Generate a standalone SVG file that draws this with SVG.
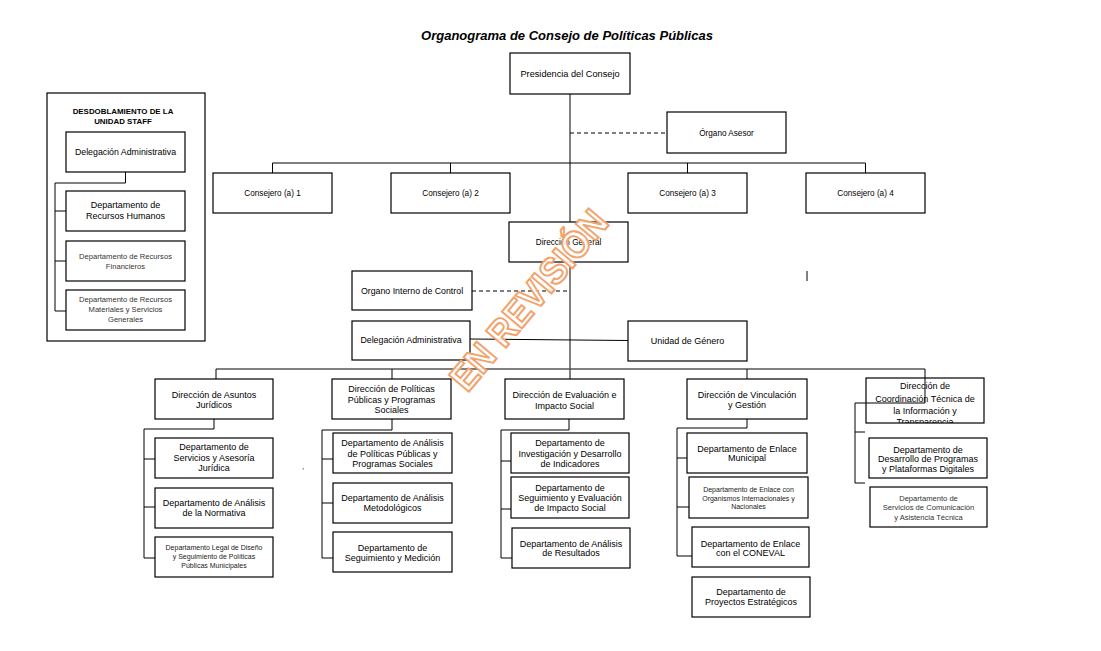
<svg xmlns="http://www.w3.org/2000/svg" width="1101" height="651" viewBox="0 0 1101 651">
<defs>
<style>
.b{fill:#fff;stroke:#000;stroke-width:1.2}
.t{font-family:"Liberation Sans",Arial,sans-serif;font-size:9px;text-anchor:middle;fill:#000}
.n{font-size:8.2px}
.s{font-size:7px;fill:#222}
.m{font-size:7.6px;fill:#333}
.c{fill:none;stroke:#000;stroke-width:1}
.d{stroke-dasharray:4 3}
.title{font-family:"Liberation Sans",Arial,sans-serif;font-size:13px;font-weight:bold;font-style:italic;text-anchor:middle}
.wm{font-family:"Liberation Sans",Arial,sans-serif;font-size:38px;font-weight:bold;text-anchor:middle;fill:#fff;fill-opacity:0.9;stroke:#F2A36C;stroke-width:2}
</style>
<clipPath id="clipCoord"><rect x="866" y="378" width="118" height="45"/></clipPath>
</defs>
<rect width="1101" height="651" fill="#fff"/>
<text class="title" x="567" y="40">Organograma de Consejo de Políticas Públicas</text>

<g id="staff">
<rect class="b" x="47" y="93" width="158" height="248"/>
<text class="t" x="123" y="114" style="font-size:7.9px;font-weight:bold">DESDOBLAMIENTO DE LA</text>
<text class="t" x="123" y="124" style="font-size:7.9px;font-weight:bold">UNIDAD STAFF</text>
</g>
<g id="staff-delegacion"><rect class="b" x="66" y="132" width="119" height="40"/><text class="t" x="125.5" y="155" style="font-size:8.8px">Delegación Administrativa</text></g>
<g id="staff-rrhh"><rect class="b" x="66" y="191" width="119" height="40"/><text class="t" x="125.5" y="208">Departamento de</text><text class="t" x="125.5" y="219">Recursos Humanos</text></g>
<g id="staff-financieros"><rect class="b" x="66" y="241" width="119" height="40"/><text class="t m" x="125.5" y="259">Departamento de Recursos</text><text class="t m" x="125.5" y="269">Financieros</text></g>
<g id="staff-materiales"><rect class="b" x="66" y="290" width="119" height="40"/><text class="t m" x="125.5" y="302">Departamento de Recursos</text><text class="t m" x="125.5" y="312">Materiales y Servicios</text><text class="t m" x="125.5" y="322">Generales</text></g>

<g id="presidencia"><rect class="b" x="510" y="53" width="120" height="41"/><text class="t" x="570" y="77" style="font-size:9.2px">Presidencia del Consejo</text></g>
<g id="organo-asesor"><rect class="b" x="667" y="112" width="119" height="41"/><text class="t n" x="726.5" y="136">Órgano Asesor</text></g>
<g id="consejero1"><rect class="b" x="213" y="173" width="119" height="40"/><text class="t n" x="272.5" y="196">Consejero (a) 1</text></g>
<g id="consejero2"><rect class="b" x="391" y="173" width="119" height="40"/><text class="t n" x="450.5" y="196">Consejero (a) 2</text></g>
<g id="consejero3"><rect class="b" x="628" y="173" width="119" height="40"/><text class="t n" x="687.5" y="196">Consejero (a) 3</text></g>
<g id="consejero4"><rect class="b" x="806" y="173" width="119" height="40"/><text class="t n" x="865.5" y="196">Consejero (a) 4</text></g>
<g id="direccion-general"><rect class="b" x="509" y="222" width="119" height="40"/><text class="t n" x="568.5" y="245">Dirección General</text></g>
<g id="organo-interno"><rect class="b" x="352" y="271" width="120" height="39"/><text class="t" x="412" y="294" style="font-size:8.8px">Organo Interno de Control</text></g>
<g id="delegacion"><rect class="b" x="352" y="321" width="118" height="39"/><text class="t" x="411" y="343" style="font-size:8.8px">Delegación Administrativa</text></g>
<g id="unidad-genero"><rect class="b" x="628" y="321" width="119" height="40"/><text class="t" x="687.5" y="344">Unidad de Género</text></g>

<g id="dir-asuntos"><rect class="b" x="155" y="379" width="118" height="40"/><text class="t" x="214" y="398">Dirección de Asuntos</text><text class="t" x="214" y="408">Jurídicos</text></g>
<g id="dep-servicios"><rect class="b" x="155" y="438" width="118" height="40"/><text class="t" x="214" y="450">Departamento de</text><text class="t" x="214" y="461">Servicios y Asesoría</text><text class="t" x="214" y="471">Jurídica</text></g>
<g id="dep-normativa"><rect class="b" x="155" y="488" width="118" height="40"/><text class="t" x="214" y="506">Departamento de Análisis</text><text class="t" x="214" y="516">de la Normativa</text></g>
<g id="dep-legal"><rect class="b" x="155" y="537" width="118" height="40"/><text class="t s" x="214" y="550">Departamento Legal de Diseño</text><text class="t s" x="214" y="559">y Seguimiento de Políticas</text><text class="t s" x="214" y="568">Públicas Municipales</text></g>

<g id="dir-politicas"><rect class="b" x="332" y="379" width="119" height="40"/><text class="t" x="391.5" y="392">Dirección de Políticas</text><text class="t" x="391.5" y="403">Públicas y Programas</text><text class="t" x="391.5" y="413">Sociales</text></g>
<g id="dep-analisis-pp"><rect class="b" x="333" y="433" width="119" height="40"/><text class="t" x="392.5" y="446">Departamento de Análisis</text><text class="t" x="392.5" y="457">de Políticas Públicas y</text><text class="t" x="392.5" y="467">Programas Sociales</text></g>
<g id="dep-metodologicos"><rect class="b" x="333" y="483" width="119" height="40"/><text class="t" x="392.5" y="501">Departamento de Análisis</text><text class="t" x="392.5" y="511">Metodológicos</text></g>
<g id="dep-seguimiento-medicion"><rect class="b" x="333" y="532" width="119" height="40"/><text class="t" x="392.5" y="551">Departamento de</text><text class="t" x="392.5" y="561">Seguimiento y Medición</text></g>

<g id="dir-evaluacion"><rect class="b" x="505" y="379" width="119" height="40"/><text class="t" x="564.5" y="398">Dirección de Evaluación e</text><text class="t" x="564.5" y="409">Impacto Social</text></g>
<g id="dep-investigacion"><rect class="b" x="511" y="433" width="118" height="40"/><text class="t" x="570" y="446">Departamento de</text><text class="t" x="570" y="457">Investigación y Desarrollo</text><text class="t" x="570" y="467">de Indicadores</text></g>
<g id="dep-seguimiento-eval"><rect class="b" x="511" y="477" width="118" height="41"/><text class="t" x="570" y="491">Departamento de</text><text class="t" x="570" y="501">Seguimiento y Evaluación</text><text class="t" x="570" y="511">de Impacto Social</text></g>
<g id="dep-resultados"><rect class="b" x="512" y="528" width="118" height="40"/><text class="t" x="571" y="547">Departamento de Análisis</text><text class="t" x="571" y="556">de Resultados</text></g>

<g id="dir-vinculacion"><rect class="b" x="687" y="379" width="120" height="40"/><text class="t" x="747" y="398">Dirección de Vinculación</text><text class="t" x="747" y="408">y Gestión</text></g>
<g id="dep-municipal"><rect class="b" x="687" y="433" width="120" height="40"/><text class="t" x="747" y="452">Departamento de Enlace</text><text class="t" x="747" y="461">Municipal</text></g>
<g id="dep-organismos"><rect class="b" x="689" y="477" width="119" height="41"/><text class="t s" x="748.5" y="491.5">Departamento de Enlace con</text><text class="t s" x="748.5" y="500.5">Organismos Internacionales y</text><text class="t s" x="748.5" y="508.5">Nacionales</text></g>
<g id="dep-coneval"><rect class="b" x="692" y="527" width="117" height="40"/><text class="t" x="750.5" y="547">Departamento de Enlace</text><text class="t" x="750.5" y="556">con el CONEVAL</text></g>
<g id="dep-proyectos"><rect class="b" x="692" y="577" width="118" height="40"/><text class="t" x="751" y="595">Departamento de</text><text class="t" x="751" y="605">Proyectos Estratégicos</text></g>

<g id="dir-coordinacion"><rect class="b" x="866" y="378" width="118" height="45"/><g clip-path="url(#clipCoord)"><text class="t" x="925" y="389">Dirección de</text><text class="t" x="925" y="402">Coordinación Técnica de</text><text class="t" x="925" y="414">la Información y</text><text class="t" x="925" y="425">Transparencia</text></g></g>
<g id="dep-plataformas"><rect class="b" x="869" y="438" width="118" height="40"/><text class="t" x="928" y="453">Departamento de</text><text class="t" x="928" y="462">Desarrollo de Programas</text><text class="t" x="928" y="472">y Plataformas Digitales</text></g>
<g id="dep-comunicacion"><rect class="b" x="870" y="487" width="117" height="40"/><text class="t m" x="928.5" y="501">Departamento de</text><text class="t m" x="928.5" y="510">Servicios de Comunicación</text><text class="t m" x="928.5" y="520">y Asistencia Técnica</text></g>

<g id="connectors">
<path class="c" d="M125.5 172V183H55V311M55 211H66M55 261H66M55 311H66"/>
<path class="c" d="M570 94V222M570 262V379"/>
<path class="c d" d="M570 133H667"/>
<path class="c" d="M272.5 173V163H865.5V173M450.5 163V173M687.5 163V173"/>
<path class="c d" d="M472 291H570"/>
<path class="c" d="M470 339L628 340.5"/>
<path class="c" d="M216 369H925" style="stroke:#555;stroke-width:1.6"/>
<path class="c" d="M216 369V379M392 369V379M747 369V379"/>
<path class="c" d="M214 419V429H144V558M144 459H155M144 507H155M144 558H155"/>
<path class="c" d="M392 419V430H322V558M322 459H333M322 503H333M322 558H333"/>
<path class="c" d="M569 419V430H501V558M501 461H511M501 509H511M501 558H512"/>
<path class="c" d="M747 419V428H677V556M677 458H687M677 507H689M677 556H692"/>
<path class="c" d="M925 369V403H855V483M855 432H865M855 483H865"/>
<path class="c" d="M807 271V281"/>
<rect x="302.5" y="468" width="1.5" height="1.5" fill="#999"/>
</g>

<text class="wm" x="529" y="313" textLength="222" lengthAdjust="spacingAndGlyphs" transform="rotate(-50 529 300)">EN REVISIÓN</text>
</svg>
